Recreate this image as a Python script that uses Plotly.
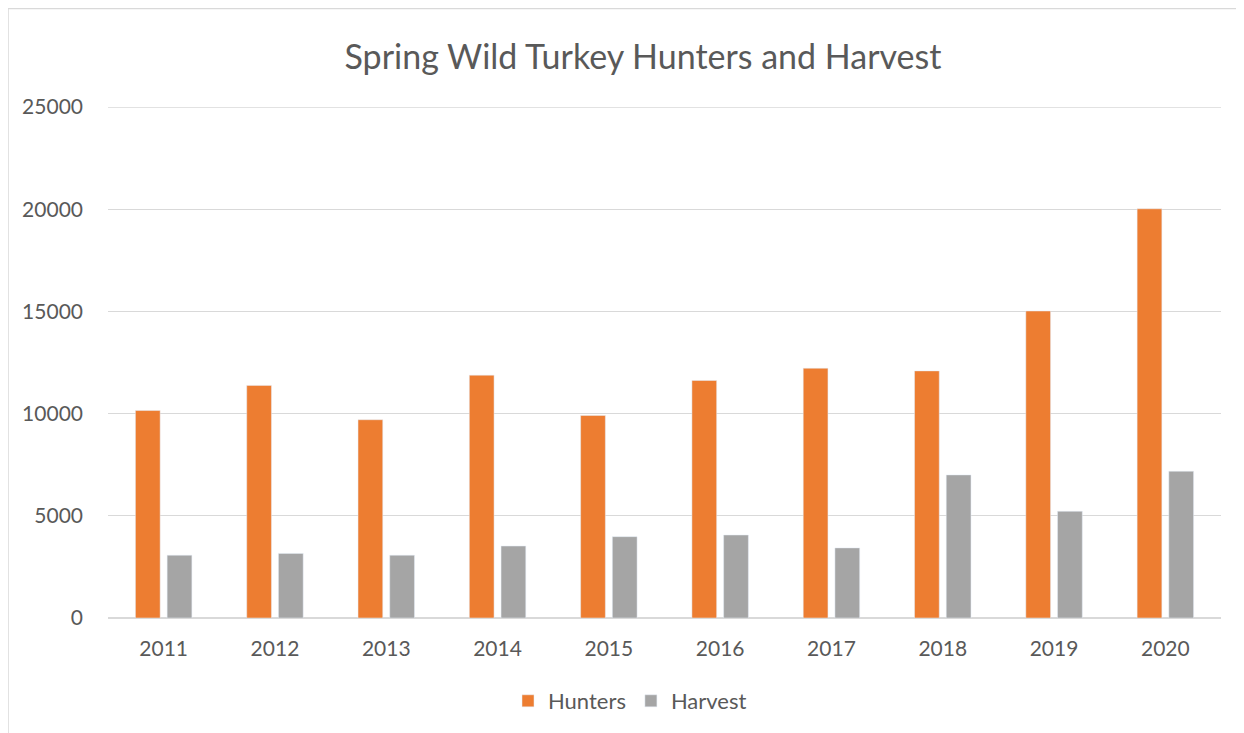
import plotly.graph_objects as go

years = ["2011", "2012", "2013", "2014", "2015", "2016", "2017", "2018", "2019", "2020"]
hunters = [10150, 11380, 9700, 11880, 9910, 11620, 12220, 12090, 15020, 20020]
harvest = [3070, 3160, 3070, 3520, 3980, 4060, 3430, 7000, 5220, 7180]
y_ticks = [0, 5000, 10000, 15000, 20000, 25000]

# figure sits at an 8px page offset
W, H = 1236, 725
L, R, T, B = 100, 1213, 99, 610
FONT = "Lato, 'Open Sans', sans-serif"
TXT = "#595959"
GRID = "#d9d9d9"


def px(x):
    return (x - L) / (R - L)


def py(y):
    return (B - y) / (B - T)


fig = go.Figure()
fig.add_trace(go.Bar(x=years, y=hunters, name="Hunters", marker=dict(color="#ED7D31")))
fig.add_trace(go.Bar(x=years, y=harvest, name="Harvest", marker=dict(color="#A5A5A5")))

shapes = [
    dict(type="path", xref="paper", yref="paper", layer="below",
         path=f"M {px(0)},{py(740)} L {px(0)},{py(0.5)} L {px(1250)},{py(0.5)}",
         line=dict(color=GRID, width=1.5)),
    # top gridline (plotly omits the one on the range edge)
    dict(type="line", xref="paper", x0=0, x1=1, yref="y", y0=y_ticks[-1], y1=y_ticks[-1],
         layer="below", line=dict(color=GRID, width=1.3)),
]

fig.update_layout(
    width=W, height=H,
    margin=dict(l=L, r=W - R, t=T, b=H - B, autoexpand=False),
    paper_bgcolor="white", plot_bgcolor="white",
    font=dict(family=FONT, color=TXT, size=21),
    title=dict(text="Spring Wild Turkey Hunters and Harvest", x=635 / W, xref="container",
               xanchor="center", y=1 - 49 / H, yref="container", yanchor="middle",
               font=dict(family=FONT, size=34, color=TXT)),
    barmode="group", bargap=0.43, bargroupgap=0.22,
    showlegend=True,
    legend=dict(orientation="h", x=px(622), xanchor="center", y=py(693), yanchor="middle",
                font=dict(family=FONT, size=22, color=TXT), traceorder="normal",
                itemwidth=30, bgcolor="rgba(0,0,0,0)"),
    shapes=shapes,
    xaxis=dict(showgrid=False, showline=False, ticks="", ticklabelstandoff=16,
               tickfont=dict(family=FONT, size=21, color=TXT)),
    yaxis=dict(range=[0, 25000], tickvals=y_ticks, ticktext=[str(v) for v in y_ticks],
               showgrid=True, gridcolor=GRID, gridwidth=1.3,
               zeroline=True, zerolinecolor=GRID, zerolinewidth=2,
               ticks="", ticklabelstandoff=24,
               tickfont=dict(family=FONT, size=21, color=TXT)),
)

fig.write_html("out.html")
